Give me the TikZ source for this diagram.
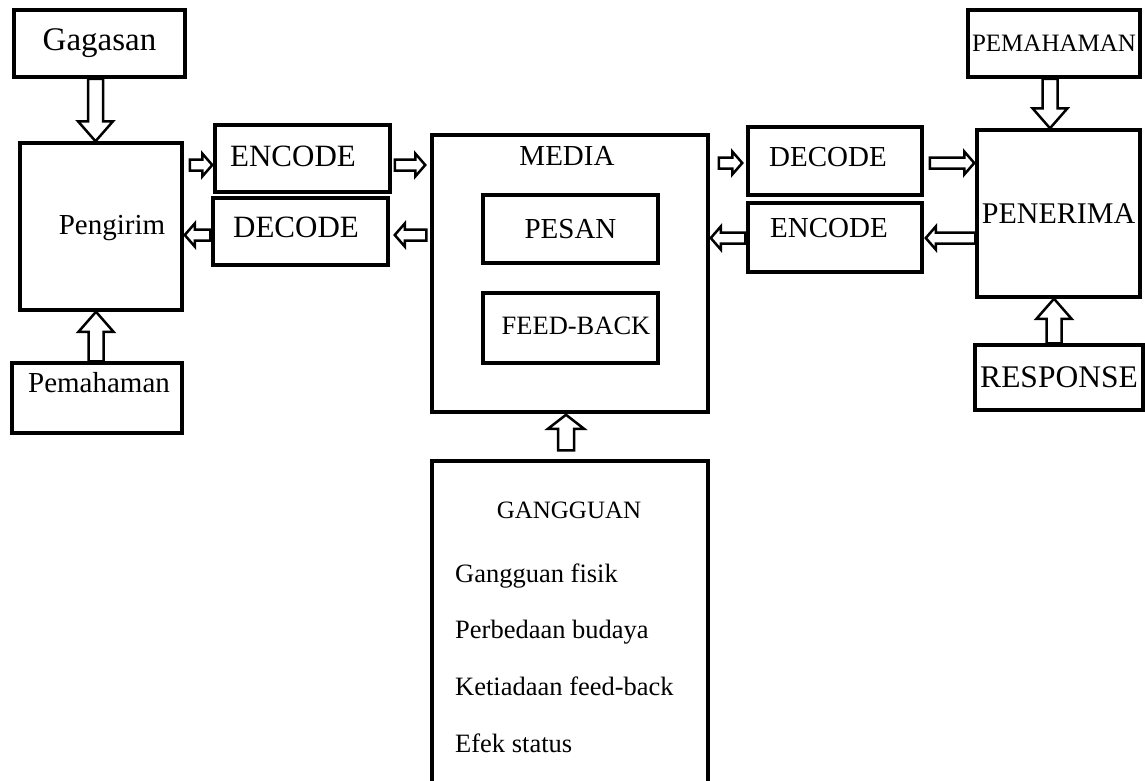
\documentclass[tikz,border=0pt]{standalone}
\usepackage{fontspec}
\setmainfont{Liberation Serif}
\usetikzlibrary{calc}
\tikzset{
    kotak/.style={rectangle, draw=black, line width=3.5pt, fill=white, inner sep=0pt,
        text centered, font=\fontsize{29}{34}\selectfont},
    panah/.style={draw=black, line width=2.5pt, fill=white, line join=miter},
    judul/.style={inner sep=0pt, font=\fontsize{29}{34}\selectfont},
    daftar/.style={inner sep=0pt, anchor=base west, font=\fontsize{26.5}{32}\selectfont},
}
% hollow block arrow: shaft half width, head half width, head length, from, to
\newcommand{\blockarrow}[5]{%
    \coordinate (ba-t) at #4;
    \coordinate (ba-p) at #5;
    \coordinate (ba-h) at ($(ba-p)!#3pt!(ba-t)$);
    \draw[panah] ($(ba-t)!#1pt!90:(ba-p)$) -- ($(ba-h)!#1pt!90:(ba-p)$)
        -- ($(ba-h)!#2pt!90:(ba-p)$) -- (ba-p) -- ($(ba-h)!#2pt!-90:(ba-p)$)
        -- ($(ba-h)!#1pt!-90:(ba-p)$) -- ($(ba-t)!#1pt!-90:(ba-p)$) -- cycle;
}
\newcommand{\bigarrow}[2]{\blockarrow{7.5}{17.5}{20}{#1}{#2}}
\newcommand{\smallarrow}[2]{\blockarrow{5.5}{11.5}{10}{#1}{#2}}

\begin{document}
\begin{tikzpicture}[x=1pt, y=-1pt]
    \useasboundingbox (0,0) rectangle (1145,780);

    % pengirim side
    \node[kotak, minimum width=171, minimum height=67, font=\fontsize{33}{38}\selectfont] (gagasan) at (99.5,43.5) {Gagasan};
    \node[kotak, minimum width=162, minimum height=167] (pengirim) at (101,226.5) {};
    \node[judul] (pengirimtxt) at (112,228) {Pengirim};
    \node[kotak, minimum width=170, minimum height=70] (pemahaman) at (97,398) {};
    \node[judul, anchor=base] (pemahamantxt) at (99,392) {Pemahaman};
    \node[kotak, minimum width=175, minimum height=67] (enc1) at (302.5,158.5) {};
    \node[judul, font=\fontsize{31}{36}\selectfont] (enc1txt) at (293,156) {ENCODE};
    \node[kotak, minimum width=175, minimum height=67] (dec1) at (300.5,231.5) {};
    \node[judul, font=\fontsize{31}{36}\selectfont] (dec1txt) at (296,227) {DECODE};

    % media
    \node[kotak, minimum width=276, minimum height=277] (media) at (570,273.5) {};
    \node[judul] (mediatxt) at (567,156) {MEDIA};
    \node[kotak, minimum width=175, minimum height=68] (pesan) at (570.5,229) {PESAN};
    \node[kotak, minimum width=175, minimum height=70] (feedback) at (570.5,328) {};
    \node[judul, font=\fontsize{26.5}{32}\selectfont] (feedbacktxt) at (576,326) {FEED-BACK};
    \node[kotak, minimum width=276, minimum height=339] (gangguan) at (570,630.5) {};
    \node[judul, font=\fontsize{25}{30}\selectfont] (gangguantxt) at (569,510) {GANGGUAN};
    \foreach \t/\y [count=\i] in {Gangguan fisik/582, Perbedaan budaya/638,
        Ketiadaan feed-back/695, Efek status/752}
        \node[daftar] (gg\i) at (455,\y) {\t};

    % penerima side
    \node[kotak, minimum width=174, minimum height=68] (dec2) at (835,161) {};
    \node[judul] (dec2txt) at (828,157) {DECODE};
    \node[kotak, minimum width=174, minimum height=69] (enc2) at (835,237.5) {};
    \node[judul] (enc2txt) at (829,228) {ENCODE};
    \node[kotak, minimum width=172, minimum height=67, font=\fontsize{25}{30}\selectfont] (pemahaman2) at (1054,43.5) {PEMAHAMAN};
    \node[kotak, minimum width=163, minimum height=167, font=\fontsize{30}{35}\selectfont] (penerima) at (1058.5,213.5) {PENERIMA};
    \node[kotak, minimum width=168, minimum height=65, font=\fontsize{31.5}{36}\selectfont] (response) at (1059,377.5) {RESPONSE};

    % arrows
    \bigarrow{($(gagasan.south)+(-4,0)$)}{($(pengirim.north)+(-5.5,0)$)}
    \bigarrow{($(pemahaman.north)+(-1,0)$)}{($(pengirim.south)+(-5,0)$)}
    \smallarrow{($(pengirim.east |- enc1.west)+(6,6.5)$)}{($(enc1.west)+(-1,6.5)$)}
    \smallarrow{($(enc1.east)+(3,6.5)$)}{($(media.west |- enc1.west)+(-5,6.5)$)}
    \smallarrow{($(media.west |- dec1.west)+(-4,3.5)$)}{($(dec1.east)+(5,3.5)$)}
    \smallarrow{($(dec1.west)+(-1,3.5)$)}{($(pengirim.east |- dec1.west)+(1,3.5)$)}
    \blockarrow{8}{18}{14}{($(gangguan.north)+(-4,-9)$)}{($(media.south)+(-4,1)$)}
    \smallarrow{($(media.east |- dec2.west)+(9,2)$)}{($(dec2.west)+(-4,2)$)}
    \smallarrow{($(dec2.east)+(6,2)$)}{($(penerima.west |- dec2.west)+(-1,2)$)}
    \smallarrow{($(penerima.west |- enc2.west)+(0,0.5)$)}{($(enc2.east)+(2,0.5)$)}
    \smallarrow{($(enc2.west)+(-1,0.5)$)}{($(media.east |- enc2.west)+(1,0.5)$)}
    \bigarrow{($(pemahaman2.south)+(-4,0)$)}{($(penerima.north)+(-8.5,0)$)}
    \bigarrow{($(response.north)+(-5,0)$)}{($(penerima.south)+(-4.5,0)$)}
\end{tikzpicture}
\end{document}
